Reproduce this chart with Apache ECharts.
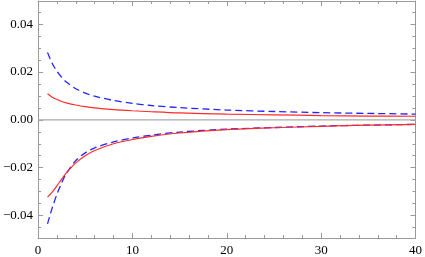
<!DOCTYPE html>
<html>
<head>
<meta charset="utf-8">
<script src="https://cdn.jsdelivr.net/npm/echarts@6/dist/echarts.min.js"></script>
<style>
html,body{margin:0;padding:0;background:#fff;}
#c{width:425px;height:257px;}
</style>
</head>
<body>
<div id="c"></div>
<script>
// Data
var xs = [1, 1.5, 2, 2.5, 3, 4, 5, 6, 8, 10, 12, 15, 20, 25, 30, 35, 40];
var blueUpper = [0.0282, 0.0236, 0.0203, 0.0178, 0.0158, 0.0130, 0.0112, 0.0099, 0.0081, 0.0069, 0.0060, 0.0051, 0.0041, 0.0035, 0.0030, 0.0027, 0.0024];
var redUpper  = [0.0109, 0.0095, 0.0085, 0.0077, 0.0071, 0.0062, 0.0055, 0.0050, 0.0043, 0.0038, 0.0034, 0.0029, 0.0024, 0.0021, 0.0018, 0.0016, 0.0015];
var redLower  = [-0.0323, -0.0302, -0.0276, -0.0248, -0.0222, -0.0180, -0.0150, -0.0128, -0.0100, -0.0082, -0.0069, -0.0055, -0.0041, -0.0033, -0.0027, -0.0022, -0.0019];
var blueLower = [-0.0435, -0.0368, -0.0311, -0.0263, -0.0224, -0.0170, -0.0138, -0.0117, -0.0092, -0.0076, -0.0064, -0.0051, -0.0039, -0.0032, -0.0026, -0.0022, -0.0019];
var yTickLabels = [-0.04, -0.02, 0, 0.02, 0.04];
var yMinorTicks = [-0.045, -0.035, -0.03, -0.025, -0.015, -0.01, -0.005, 0.005, 0.01, 0.015, 0.025, 0.03, 0.035, 0.045];
var xRange = [0, 40];
var yRange = [-0.0494, 0.0497];

function pairs(ys) { return xs.map(function (x, i) { return [x, ys[i]]; }); }

var frameColor = '#999';
var fontStyle = { fontFamily: 'Liberation Serif', fontSize: 13, color: '#000' };

function xAx(pos, labels) {
  return {
    type: 'value', position: pos, min: xRange[0], max: xRange[1], interval: 10,
    axisLine: { show: true, onZero: false, lineStyle: { color: frameColor, width: 1 } },
    axisTick: { show: true, inside: true, length: 5, lineStyle: { color: frameColor } },
    minorTick: { show: true, splitNumber: 5, length: 3, lineStyle: { color: frameColor } },
    axisLabel: Object.assign({ show: labels, margin: 6 }, fontStyle),
    splitLine: { show: false }
  };
}
function yAx(pos, labels, minor) {
  return {
    type: 'value', position: pos, min: yRange[0], max: yRange[1],
    axisLine: { show: !minor, onZero: false, lineStyle: { color: frameColor, width: 1 } },
    axisTick: { show: true, inside: true, length: minor ? 3 : 5, lineStyle: { color: frameColor },
      customValues: minor ? yMinorTicks : yTickLabels },
    axisLabel: Object.assign({ show: labels && !minor, margin: 5, customValues: yTickLabels,
      formatter: function (v) { return (v < 0 ? '\u2212' : '') + Math.abs(v).toFixed(2); } }, fontStyle),
    splitLine: { show: false }
  };
}

var chart = echarts.init(document.getElementById('c'), null, { renderer: 'canvas' });
chart.setOption({
  animation: false,
  backgroundColor: '#fff',
  grid: { left: 35, right: 6, top: 1, bottom: 19 },
  xAxis: [xAx('bottom', true), xAx('top', false)],
  yAxis: [yAx('left', true, false), yAx('right', false, false), yAx('left', false, true), yAx('right', false, true)],
  series: [
    {
      type: 'line', data: [[xRange[0], 0], [xRange[1], 0]], symbol: 'none', silent: true,
      lineStyle: { color: '#aaa', width: 1.3 }, z: 1
    },
    {
      type: 'line', data: pairs(blueUpper), symbol: 'none', smooth: 0.3,
      lineStyle: { color: '#2424ff', width: 1.3, type: [7, 4] }, z: 2
    },
    {
      type: 'line', data: pairs(blueLower), symbol: 'none', smooth: 0.3,
      lineStyle: { color: '#2424ff', width: 1.3, type: [7, 4] }, z: 2
    },
    {
      type: 'line', data: pairs(redUpper), symbol: 'none', smooth: 0.3,
      lineStyle: { color: '#ff2a2a', width: 1.2 }, z: 3
    },
    {
      type: 'line', data: pairs(redLower), symbol: 'none', smooth: 0.3,
      lineStyle: { color: '#ff2a2a', width: 1.2 }, z: 3
    }
  ]
});
</script>
</body>
</html>
